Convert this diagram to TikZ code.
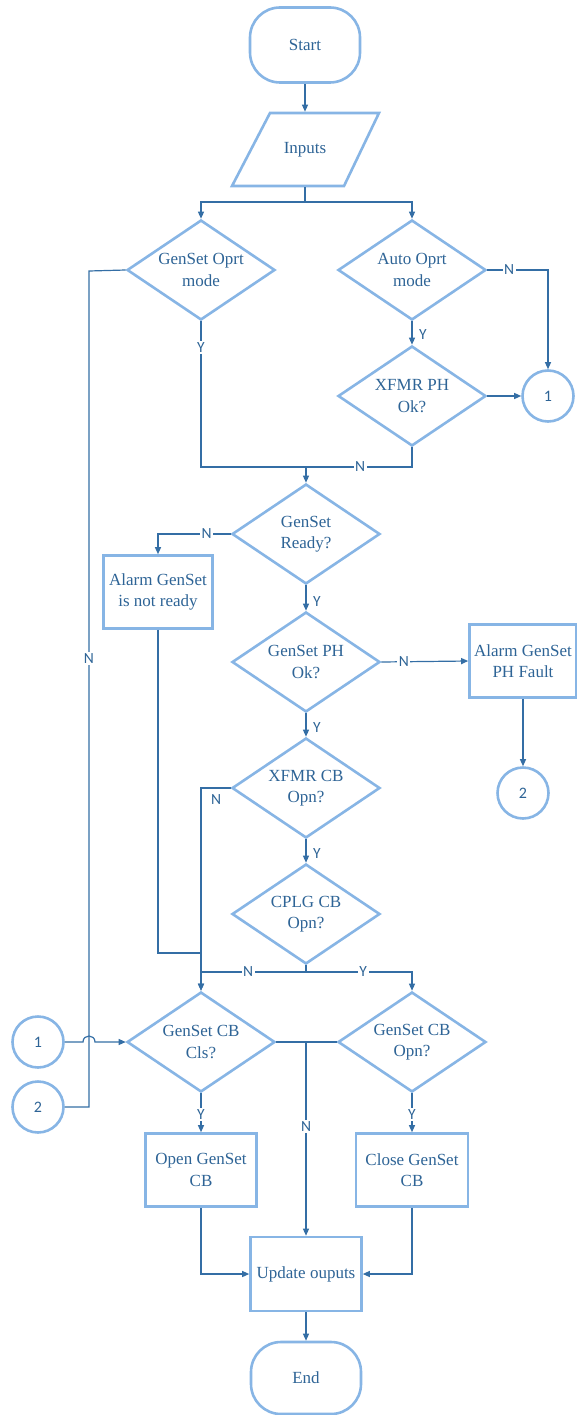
\documentclass[tikz,border=0pt]{standalone}
\usepackage{fontspec}
\setmainfont{Liberation Serif}
\newfontfamily\lblfont{Carlito}
\usetikzlibrary{shapes.geometric,arrows.meta}
\definecolor{boxc}{RGB}{135,181,229}
\definecolor{linec}{RGB}{52,110,165}
\definecolor{txtc}{RGB}{46,100,150}
\begin{document}
\begin{tikzpicture}[x=1pt,y=-1pt,
  outline/.style={draw=boxc, line width=2.6pt},
  shape base/.style={outline, fill=white, text=txtc,
    font=\fontsize{17}{21.5}\selectfont, align=center, inner sep=0pt},
  terminal/.style={shape base, rectangle, rounded corners=30pt,
    minimum width=110pt, minimum height=75pt},
  process/.style={shape base, rectangle, minimum width=110pt, minimum height=73pt},
  decision/.style={shape base, diamond, aspect=1.48,
    minimum width=148pt, minimum height=100pt},
  jump/.style={shape base, circle, minimum size=51pt,
    font=\lblfont\fontsize{16}{16}\selectfont},
  wire/.style={draw=linec, line width=1.2pt},
  arrow/.style={wire, -{Triangle[length=7pt,width=6pt]}},
  lbl/.style={fill=white, text=txtc, inner sep=1.5pt,
    font=\lblfont\fontsize{15.5}{15.5}\selectfont},
  lblr/.style={lbl, fill=none, anchor=west, xshift=5pt}
]
\useasboundingbox (0,0) rectangle (576,1415);

% ---- nodes ----
\node[terminal] (start) at (305,45) {Start};
% input/output parallelogram: outline drawn around a borderless node
\draw[outline, fill=white, line join=miter] (232,186) -- (270,113) -- (379,113) -- (344,186) -- cycle;
\node[shape base, draw=none, fill=none, minimum width=110pt, minimum height=73pt]
  (inp) at (305,149.5) {Inputs};
\node[decision] (oprt)  at (201,270) {GenSet Oprt\\mode};
\node[decision] (auto)  at (412,270) {Auto Oprt\\mode};
\node[decision] (xph)   at (412,396) {XFMR PH\\Ok?};
\node[jump]     (ca1)   at (548,396) {1};
\node[decision] (rdy)   at (306,534) {GenSet\\Ready?};
\node[process, minimum width=109pt] (anr) at (158,592) {Alarm GenSet\\is not ready};
\node[decision] (gph)   at (306,662) {GenSet PH\\Ok?};
\node[process, minimum width=107pt] (apf) at (523,661) {Alarm GenSet\\PH Fault};
\node[jump]     (ca2)   at (523,793) {2};
\node[decision] (xcb)   at (306,788) {XFMR CB\\Opn?};
\node[decision] (ccb)   at (306,914) {CPLG CB\\Opn?};
\node[decision] (gcls)  at (201,1042) {GenSet CB\\Cls?};
\node[decision] (gopn)  at (412,1042) {GenSet CB\\Opn?};
\node[jump]     (cb1)   at (38,1042) {1};
\node[jump]     (cb2)   at (38,1107) {2};
\node[process, minimum width=111pt] (opn) at (201,1170) {Open GenSet\\CB};
\node[process, minimum width=112pt] (cls) at (412,1170) {Close GenSet\\CB};
\node[process, minimum width=111pt, minimum height=74pt] (upd) at (306,1274) {Update ouputs};
\node[terminal, minimum height=72pt] (fin) at (306,1378) {End};

% ---- junction points ----
\coordinate (split) at (305,202);
\coordinate (merge) at (306,467);
\coordinate (k1) at (89,271);
\coordinate (k2) at (89,1107);
\coordinate (m1) at (201,953);
\coordinate (j2) at (306,972);
\coordinate (j3) at (306,1042);

% ---- connectors ----
\draw[arrow] (start) -- (inp);
\draw[wire] (inp.south) -- (split);
\draw[arrow] (split) -| (oprt.north);
\draw[arrow] (split) -| (auto.north);

\draw[wire] (oprt.south) |- node[lbl, pos=0.09] {Y} (merge);
\draw[wire] (xph.south) |- node[lbl, pos=0.745] {N} (merge);
\draw[arrow] (merge) -- (rdy.north);

\draw[arrow] (auto.east) -| node[lbl, pos=0.18] {N} (ca1.north);
\draw[arrow] (auto.south) -- node[lblr, pos=0.55] {Y} (xph.north);
\draw[arrow] (xph.east) -- (ca1.west);

\draw[wire] (oprt.west) -- (k1) -- node[lbl, pos=0.463] {N} (k2) -- (cb2.east);

\draw[arrow] (rdy.west) -| node[lbl, pos=0.165] {N} (anr.north);
\draw[arrow] (rdy.south) -- node[lblr, pos=0.62] {Y} (gph.north);
\draw[arrow] (gph.east) -- node[lbl, pos=0.26] {N} (apf.west);
\draw[arrow] (apf.south) -- (ca2.north);
\draw[arrow] (gph.south) -- node[lblr, pos=0.62] {Y} (xcb.north);

\draw[arrow] (xcb.west) -| node[lbl, fill=none, pos=0.5, anchor=north west,
  xshift=8pt, yshift=-4pt] {N} (gcls.north);
\draw[wire] (anr.south) |- (m1);
\draw[arrow] (xcb.south) -- node[lblr, pos=0.62] {Y} (ccb.north);

\draw[wire] (ccb.south) -- (j2);
\draw[arrow] (j2) -| node[lbl, pos=0.276] {N} (gcls.north);
\draw[arrow] (j2) -| node[lbl, pos=0.27] {Y} (gopn.north);

\draw[arrow] (cb1.east) -- (83,1042) .. controls (83,1034) and (95,1034) .. (95,1042)
  -- (gcls.west);

\draw[wire] (gcls.east) -- (gopn.west);
\draw[arrow] (j3) -- node[lbl, pos=0.435] {N} (upd.north);
\draw[arrow] (gcls.south) -- node[lbl, pos=0.55] {Y} (opn.north);
\draw[arrow] (gopn.south) -- node[lbl, pos=0.55] {Y} (cls.north);
\draw[arrow] (opn.south) |- (upd.west);
\draw[arrow] (cls.south) |- (upd.east);
\draw[arrow] (upd) -- (fin);
\end{tikzpicture}
\end{document}
